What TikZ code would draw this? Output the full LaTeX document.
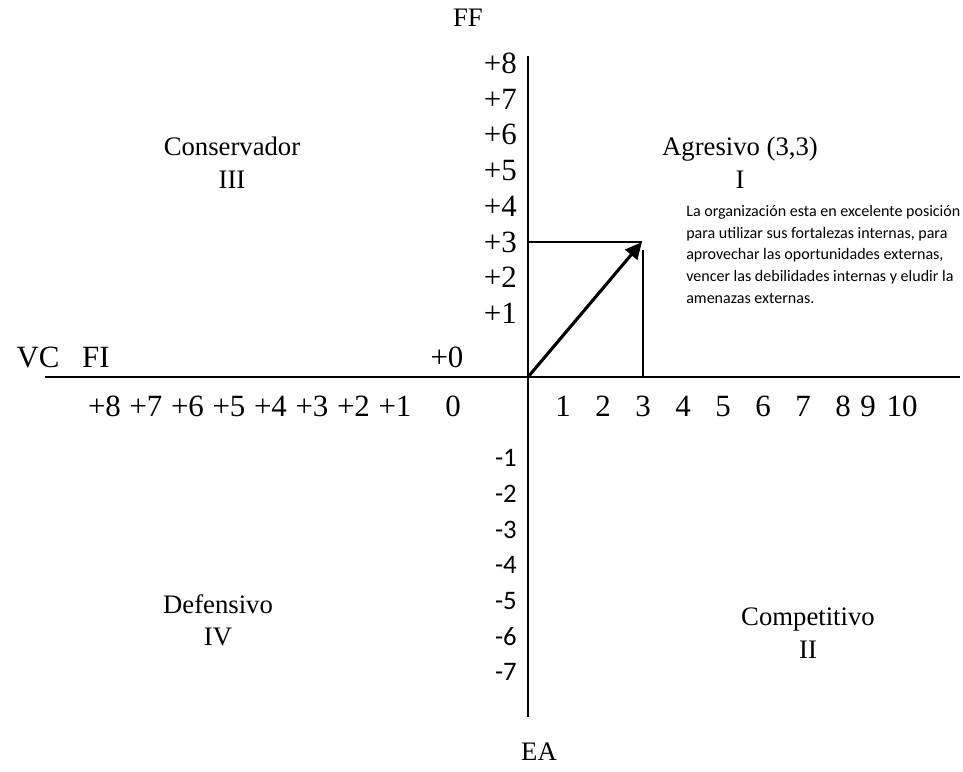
\documentclass[tikz,border=0pt]{standalone}
\usepackage{fontspec}
\setmainfont{Liberation Serif}
\newfontfamily\calibri{Carlito}
\usepackage{tikz}
\usetikzlibrary{calc,arrows.meta}
\tikzset{
  axis/.style={draw=black, line width=1.4pt},
  guide/.style={draw=black, line width=1.4pt},
  vec/.style={draw=black, line width=2.2pt, -{Triangle[length=12pt,width=11pt]}},
  lab/.style={text=black, font=\fontsize{19}{23}\selectfont, inner sep=0pt},
  num/.style={text=black, font=\fontsize{22}{26}\selectfont, inner sep=0pt, text height=15pt, text depth=0pt},
  numr/.style={num, anchor=east},
  neg/.style={text=black, font=\calibri\fontsize{19}{23}\selectfont, inner sep=0pt, anchor=east, text height=12.5pt, text depth=0pt},
  note/.style={text=black, font=\calibri\fontsize{11.4}{15.5}\selectfont, align=left, anchor=north west, inner sep=0pt},
}
\begin{document}
\begin{tikzpicture}
  \useasboundingbox (-13.2,-9.85) rectangle (10.875,9.425);
  \coordinate (O) at (0,0);
  \coordinate (top) at (0,8.03);
  \coordinate (bot) at (0,-8.5);
  \coordinate (left) at (-12.075,0);
  \coordinate (right) at (10.8,0);
  \coordinate (P) at (2.85,3.375);
  \coordinate (Py) at (0,3.375);
  \coordinate (Pt) at (2.875,3.175);
  \coordinate (Px) at (2.875,0);
  \draw[axis] (top) -- (bot);
  \draw[axis] (left) -- (right);
  \draw[guide] (Py) -- (P);
  \draw[guide] (Pt) -- (Px);
  \draw[vec] (O) -- (P);
  \node[lab] (FF) at (-1.5,8.975) {FF};
  \node[lab] (EA) at (0.275,-9.375) {EA};
  \node[num] (VC) at (-12.25,0.5) {VC};
  \node[num] (FI) at (-10.8,0.5) {FI};
  \node[num] (y0) at (-2.025,0.5) {+0};
  \foreach \k in {1,...,8}
    \node[numr] (y\k) at (-0.275,{0.707+0.893*\k}) {+\k};
  \foreach \k in {1,...,7}
    \node[neg] (n\k) at (-0.275,{-2.025-0.892*(\k-1)}) {-\k};
  \foreach \k/\x in {1/0.875,2/1.875,3/2.875,4/3.875,5/4.875,6/5.875,7/6.875,8/7.875,9/8.5,10/9.35}
    \node[num] (x\k) at (\x,-0.725) {\k};
  \foreach \k in {1,...,8}
    \node[num] (w\k) at ({-3.325-1.0375*(\k-1)},-0.725) {+\k};
  \node[num] (w0) at (-1.875,-0.725) {0};
  \node[lab, align=center] (q3) at (-7.4,5.36) {Conservador\\III};
  \node[lab, align=center] (q1) at (5.3,5.36) {Agresivo (3,3)\\I};
  \node[lab, align=center] (q4) at (-7.75,-6.09) {Defensivo\\IV};
  \node[lab, align=center] (q2) at (7.0,-6.4) {Competitivo\\II};
  \node[note] (txt) at (3.95,4.3) {La organización esta en excelente posición\\para utilizar sus fortalezas internas, para\\aprovechar las oportunidades externas,\\vencer las debilidades internas y eludir la\\amenazas externas.};
\end{tikzpicture}
\end{document}
